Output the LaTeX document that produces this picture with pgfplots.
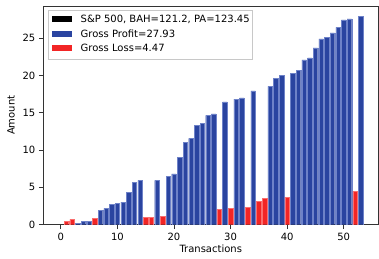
\documentclass[border=0pt]{standalone}
\usepackage{pgfplots}
\pgfplotsset{compat=1.18}
\usepackage{fontspec}
\setmainfont{DejaVu Sans}
\definecolor{pblue}{RGB}{42,68,160}
\definecolor{pblueedge}{RGB}{110,130,200}
\definecolor{lred}{RGB}{242,37,37}
\definecolor{lrededge}{RGB}{250,110,110}
\definecolor{legframe}{RGB}{200,200,200}
\begin{document}
\begin{tikzpicture}
\useasboundingbox (0,0) rectangle (379bp,259bp);
\begin{axis}[
  at={(43.3bp,34.3bp)}, anchor=south west,
  width=334.9bp, height=218.7bp, scale only axis,
  xmin=-3.09, xmax=56.09, ymin=0, ymax=29.33,
  xtick={0,10,20,30,40,50}, ytick={0,5,10,15,20,25},
  tick align=outside, major tick length=4.5bp,
  xtick pos=bottom, ytick pos=left,
  every tick/.style={black!80, line width=0.8bp},
  axis line style={black!80, line width=0.8bp},
  /pgf/number format/assume math mode=true,
  tick label style={font=\fontsize{10bp}{12bp}\selectfont},
  label style={font=\fontsize{10bp}{12bp}\selectfont},
  xlabel={Transactions}, ylabel={Amount},
  xlabel style={at={(axis description cs:0.5,0)}, anchor=center, yshift=-24.3bp},
  ylabel style={at={([xshift=-32.3bp]axis description cs:0,0.5)}, anchor=center},
  legend style={at={([xshift=5bp,yshift=-4bp]axis description cs:0,1)}, anchor=north west,
    draw=legframe, line width=0.8bp, fill=white, inner xsep=3bp, inner ysep=5bp,
    font=\fontsize{10bp}{12bp}\selectfont,
    nodes={inner sep=0pt, text height=7.5bp, text depth=2.5bp},
    row sep=4.3bp},
  legend cell align=left,
]
\addlegendimage{legend image code/.code={\fill[black,draw=none] (0bp,-1.9bp) rectangle (20bp,4.1bp); \path[draw=none,fill=none] (20bp,0) rectangle (29bp,0.1bp);}}
\addplot[ybar, bar width=0.8, bar shift=0pt, fill=pblue, draw=pblueedge, line width=0.3bp,
  legend image code/.code={\fill[pblue,draw=none] (0bp,-1.9bp) rectangle (20bp,4.1bp); \path[draw=none,fill=none] (20bp,0) rectangle (29bp,0.1bp);}]
coordinates {(3,0.18) (4,0.45) (5,0.45) (7,1.92) (8,2.19) (9,2.73) (10,2.86) (11,3.04) (12,4.38) (13,5.68) (14,5.94) (17,5.94) (19,6.52) (20,6.83) (21,9.03) (22,11.04) (23,11.59) (24,13.36) (25,13.63) (26,14.66) (27,14.87) (29,16.48) (31,16.84) (32,17.0) (34,17.96) (37,18.55) (38,19.62) (39,20.02) (41,20.29) (42,20.66) (43,22.12) (44,22.37) (45,23.72) (46,24.93) (47,25.11) (48,25.73) (49,26.45) (50,27.47) (51,27.61) (53,27.93)};
\addplot[ybar, bar width=0.8, bar shift=0pt, fill=lred, draw=lrededge, line width=0.3bp,
  legend image code/.code={\fill[lred,draw=none] (0bp,-1.9bp) rectangle (20bp,4.1bp); \path[draw=none,fill=none] (20bp,0) rectangle (29bp,0.1bp);}]
coordinates {(1,0.49) (2,0.72) (6,0.85) (15,0.99) (16,0.99) (18,1.16) (28,2.06) (30,2.23) (33,2.34) (35,3.13) (36,3.53) (40,3.71) (52,4.47)};
\legend{S\&P 500{,} BAH=121.2{,} PA=123.45, Gross Profit=27.93, Gross Loss=4.47}
\end{axis}
\end{tikzpicture}
\end{document}
